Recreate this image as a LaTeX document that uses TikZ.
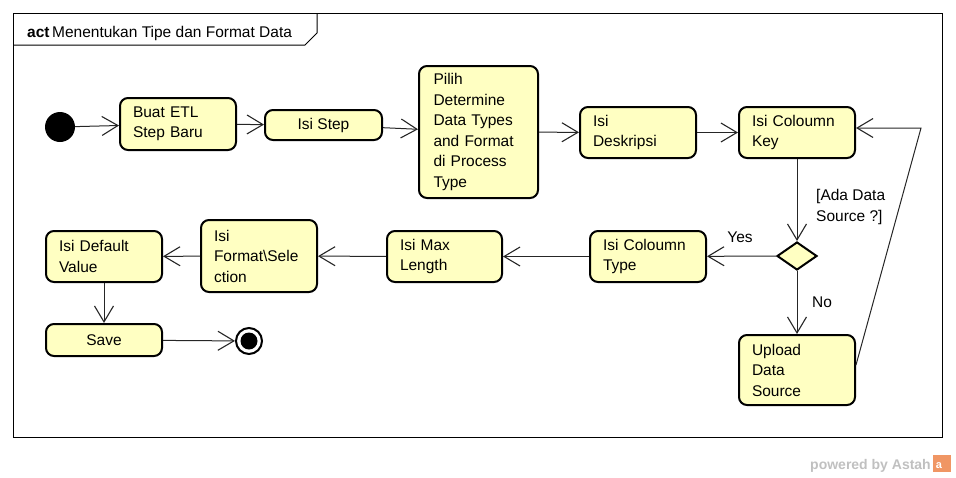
\documentclass[tikz,border=0pt]{standalone}
\usepackage{fontspec}
\setmainfont{Liberation Sans}
\usetikzlibrary{arrows.meta,shapes.geometric}
\definecolor{boxfill}{RGB}{255,255,194}
\definecolor{wm}{RGB}{192,192,192}
\definecolor{logo}{RGB}{240,150,100}
\tikzset{
  act/.style={draw=black, line width=2pt, rounded corners=8pt, fill=boxfill,
    inner sep=0pt, align=left, font=\fontsize{15.5}{20.5}\selectfont},
  flow/.style={draw=black!85, line width=1pt, -{Straight Barb[length=16pt,width=19pt,line width=1.1pt]}},
  lbl/.style={font=\fontsize{15.5}{20.5}\selectfont, inner sep=0pt, align=left}
}
\begin{document}
\begin{tikzpicture}[x=1pt,y=-1pt]
\useasboundingbox (0,0) rectangle (956,477);
% frame
\draw[line width=1pt] (13,13) rectangle (942,437);
\draw[line width=1pt] (13,45) -- (305,45) -- (317,33) -- (317,13);
\node[anchor=base west, inner sep=0pt, font=\fontsize{15.5}{18}\selectfont] (title) at (27,37) {\textbf{act}\,Menentukan Tipe dan Format Data};
% nodes
\node[circle, fill=black, minimum size=30pt, inner sep=0pt] (init) at (60,127) {};
\node[act, minimum width=116pt, minimum height=52pt, text width=90pt] (buat) at (178,124) {Buat ETL\\Step Baru};
\node[act, minimum width=117pt, minimum height=30pt, align=center] (step) at (323.5,125) {Isi Step};
\node[act, minimum width=119pt, minimum height=132pt, text width=90pt] (pilih) at (478.5,132) {Pilih\\Determine\\Data Types\\and Format\\di Process\\Type};
\node[act, minimum width=116pt, minimum height=51pt, text width=90pt] (desk) at (638,132.5) {Isi\\Deskripsi};
\node[act, minimum width=116pt, minimum height=51pt, text width=90pt] (key) at (797,132.5) {Isi Coloumn\\Key};
\node[diamond, draw=black, line width=2pt, fill=boxfill, minimum width=40pt, minimum height=28pt, inner sep=0pt] (dec) at (797,256) {};
\node[act, minimum width=116pt, minimum height=51pt, text width=90pt] (type) at (648,256.5) {Isi Coloumn\\Type};
\node[act, minimum width=115pt, minimum height=51pt, text width=89pt] (max) at (444.5,256.5) {Isi Max\\Length};
\node[act, minimum width=116pt, minimum height=72pt, text width=90pt] (fmt) at (259,256) {Isi\\Format\textbackslash Sele\\ction};
\node[act, minimum width=116pt, minimum height=51pt, text width=90pt] (def) at (104,256.5) {Isi Default\\Value};
\node[act, minimum width=116pt, minimum height=32pt, align=center] (save) at (104,340) {Save};
\node[act, minimum width=116pt, minimum height=70pt, text width=90pt] (upload) at (797,370) {Upload\\Data\\Source};
\node[circle, draw=black, line width=2pt, fill=white, minimum size=26pt, inner sep=0pt] (final) at (249,341) {};
\fill[black] (final.center) circle (8.5pt);
% connectors
\coordinate (bend) at (921,128);
\draw[flow] (init) -- (buat);
\draw[flow] (buat) -- (step);
\draw[flow] (step) -- (pilih);
\draw[flow] (pilih) -- (desk);
\draw[flow] (desk) -- (key);
\draw[flow] (key) -- (dec);
\draw[flow] (dec) -- (type);
\draw[flow] (dec) -- (upload);
\draw[flow] (upload.east |- 0,365) -- (bend) -- (key.east |- bend);
\draw[flow] (type) -- (max);
\draw[flow] (max) -- (fmt);
\draw[flow] (fmt) -- (def);
\draw[flow] (def) -- (save);
\draw[flow] (save) -- (final);
% guards
\node[lbl, anchor=west] (guard) at (816,207) {[Ada Data\\Source ?]};
\node[lbl] (yes) at (740,237) {Yes};
\node[lbl] (no) at (822,302) {No};
% watermark
\node[anchor=base east, inner sep=0pt, text=wm, font=\fontsize{14}{16}\selectfont\bfseries] (wmtext) at (931,469) {powered by Astah};
\fill[logo] (933,455) rectangle (951,472);
\node[text=white, inner sep=0pt, font=\fontsize{11}{11}\selectfont\bfseries] (logoa) at (939,466) {a};
\end{tikzpicture}
\end{document}
